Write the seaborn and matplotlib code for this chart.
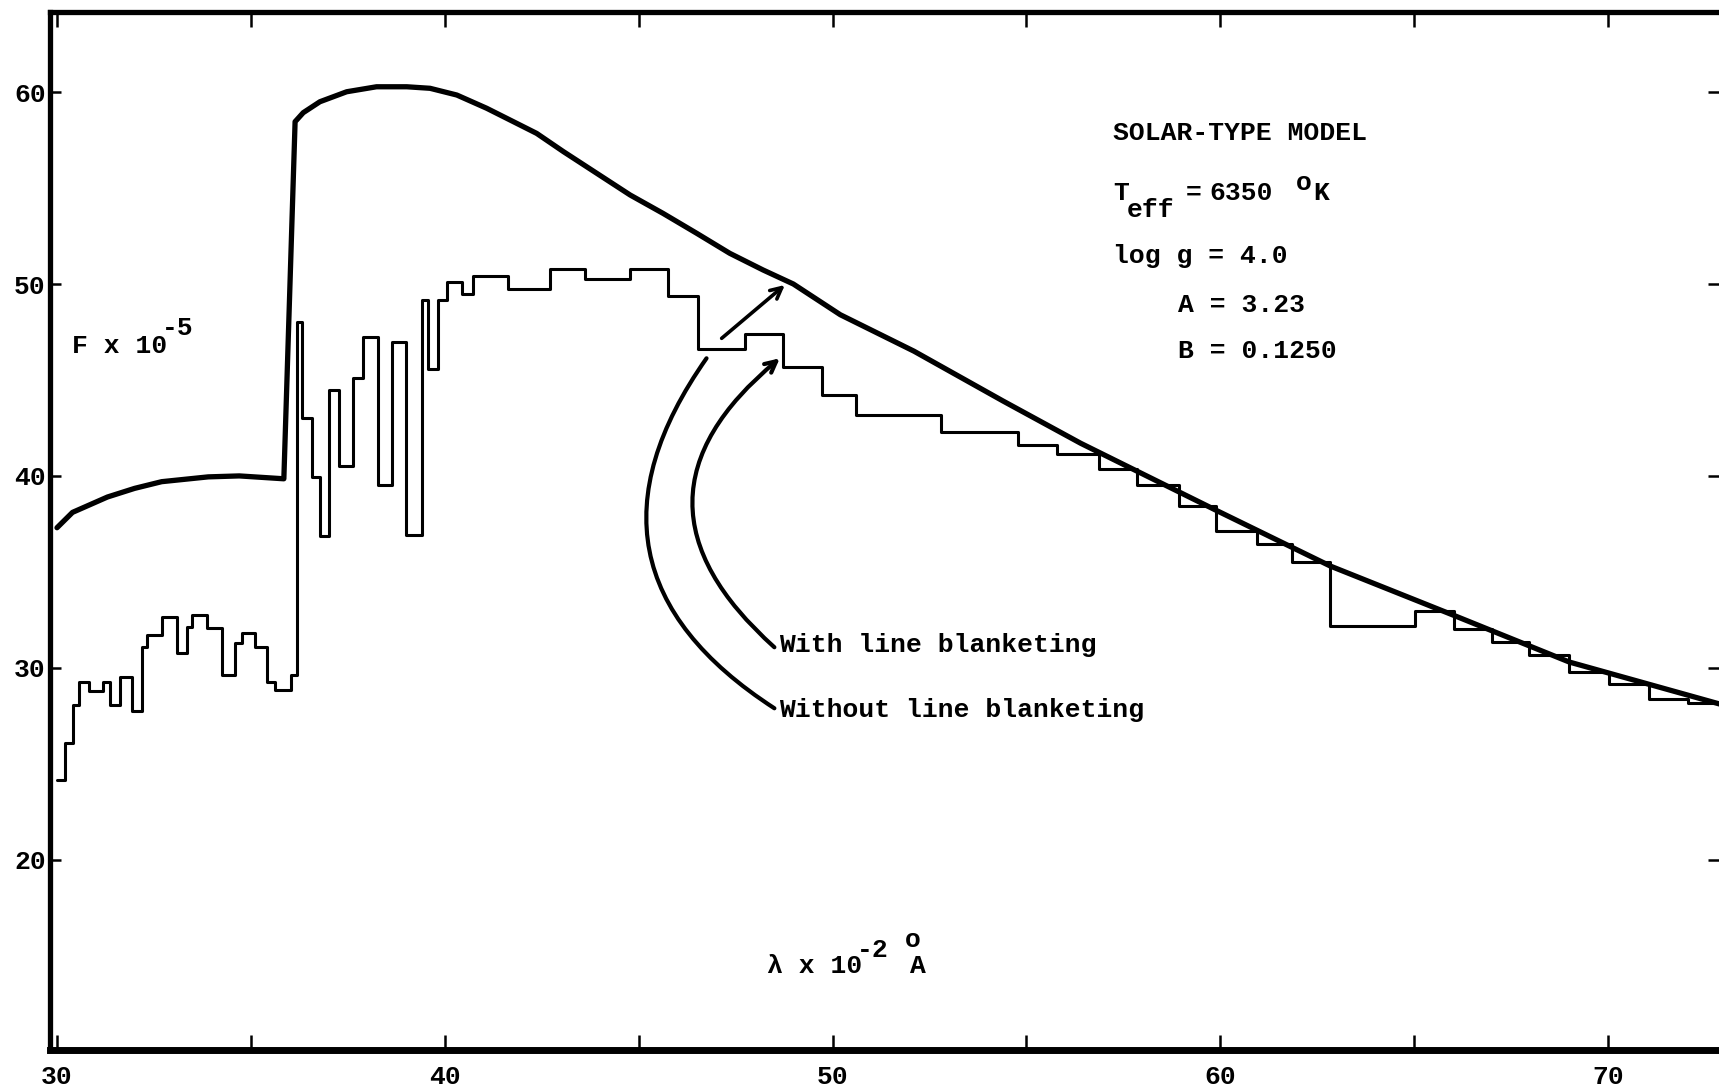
"""
Solar-type model flux, with and without line blanketing.

Recreates an old typewriter / pen-plotter figure and saves out.png.
"""

import matplotlib
matplotlib.use("Agg")
import matplotlib.pyplot as plt
import seaborn as sns


# wavelength in units of 100 A, flux in units of 1e-5
smooth_wavelength = [30.0, 30.4, 31.3, 32.0, 32.7, 33.9, 34.7, 35.85,
                     36.14, 36.35, 36.78, 37.47, 38.24, 39.02, 39.62, 40.31,
                     41.08, 41.77, 42.37, 43.06, 43.92, 44.78, 45.63, 46.5,
                     47.35, 48.21, 48.99, 50.2, 52.1, 54.4, 56.4, 59.9,
                     62.84, 66.0, 69.0, 72.9]
smooth_flux = [37.3, 38.1, 38.9, 39.35, 39.7, 39.95, 40.0, 39.85,
               58.46, 58.93, 59.5, 60.02, 60.28, 60.28, 60.2, 59.85,
               59.16, 58.46, 57.85, 56.9, 55.77, 54.64, 53.68, 52.64,
               51.6, 50.73, 50.0, 48.4, 46.5, 43.9, 41.7, 38.2,
               35.3, 32.75, 30.3, 28.1]

# blanketed flux: left edge of each wavelength bin and its flux
bin_edges = [30.0, 30.21, 30.40, 30.58, 30.83, 31.19, 31.37, 31.62, 31.93,
             32.18, 32.31, 32.70, 33.09, 33.34, 33.47, 33.86, 34.25, 34.59,
             34.76, 35.11, 35.42, 35.62, 36.03, 36.2, 36.31, 36.57, 36.78,
             37.01, 37.27, 37.63, 37.90, 38.29, 38.63, 39.00, 39.40, 39.57,
             39.83, 40.05, 40.44, 40.74, 41.64, 42.71, 43.62, 44.78, 45.75,
             46.54, 47.74, 48.71, 49.72, 50.6, 52.8, 54.77, 55.8, 56.86,
             57.84, 58.93, 59.9, 60.94, 61.86, 62.84, 65.03, 66.03, 67.0,
             67.95, 68.99, 70.03, 71.05, 72.05]
bin_flux = [24.15, 26.06, 28.06, 29.28, 28.81, 29.28, 28.06, 29.54, 27.75,
            31.1, 31.71, 32.66, 30.79, 32.11, 32.75, 32.09, 29.63, 31.27,
            31.83, 31.1, 29.28, 28.84, 29.63, 48.04, 43.0, 39.96, 36.87,
            44.48, 40.53, 45.09, 47.25, 39.53, 46.99, 36.92, 49.17, 45.55,
            49.17, 50.12, 49.5, 50.42, 49.74, 50.8, 50.24, 50.77, 49.37,
            46.6, 47.4, 45.7, 44.2, 43.2, 42.3, 41.62, 41.14, 40.34,
            39.52, 38.43, 37.14, 36.45, 35.5, 32.2, 32.95, 32.0, 31.36,
            30.66, 29.8, 29.14, 28.4, 28.14]

x_ticks = [30, 35, 40, 45, 50, 55, 60, 65, 70]
x_tick_labels = ["30", "", "40", "", "50", "", "60", "", "70"]
y_ticks = [20, 30, 40, 50, 60]
y_tick_labels = ["20", "30", "40", "50", "60"]

x_min, x_max = 29.82, 72.86
y_min, y_max = 10.08, 64.19

MONO = ["Liberation Mono", "DejaVu Sans Mono"]
FS = 19

sns.set_style("white")
plt.rcParams["font.family"] = MONO
plt.rcParams["font.weight"] = "bold"
plt.rcParams["text.color"] = "black"

fig = plt.figure(figsize=(17.19, 10.87), dpi=100)
ax = fig.add_axes([0.0291, 0.034, 0.9709, 0.9552])

# step curve runs to the right edge of the frame
step_x = bin_edges + [x_max]
step_y = bin_flux + [bin_flux[-1]]
sns.lineplot(x=step_x, y=step_y, drawstyle="steps-post", color="black",
             linewidth=2.2, estimator=None, sort=False, ax=ax)
sns.lineplot(x=smooth_wavelength, y=smooth_flux, color="black",
             linewidth=3.8, estimator=None, sort=False, ax=ax, zorder=3)

ax.set_xlim(x_min, x_max)
ax.set_ylim(y_min, y_max)
ax.set_xticks(x_ticks, x_tick_labels)
ax.set_yticks(y_ticks, y_tick_labels)
ax.set_xlabel("")
ax.set_ylabel("")

for side in ["left", "top"]:
    ax.spines[side].set_linewidth(3.8)
    ax.spines[side].set_color("black")
ax.spines["bottom"].set_linewidth(5)
ax.spines["bottom"].set_color("black")
ax.spines["right"].set_visible(False)

ax.tick_params(axis="x", direction="in", length=11, width=1.8, color="black",
               top=True, bottom=True, labelsize=FS, pad=11, labelcolor="black")
ax.tick_params(axis="y", direction="in", length=8, width=1.8, color="black",
               left=True, right=True, labelsize=FS, pad=3, labelcolor="black")

# typed annotations (superscripts/subscripts are just shifted lines)
def typed(x, y, s):
    ax.text(x, y, s, fontsize=FS, ha="left", va="baseline", family=MONO,
            fontweight="bold")

typed(57.24, 57.5, "SOLAR-TYPE MODEL")
typed(57.24, 54.38, "T")
typed(57.58, 53.51, "eff")
typed(59.1, 54.38, "=")
typed(59.73, 54.38, "6350")
typed(61.95, 54.9, "o")
typed(62.39, 54.38, "K")
typed(57.24, 51.07, "log g = 4.0")
typed(58.91, 48.56, "A = 3.23")
typed(58.91, 46.12, "B = 0.1250")

typed(30.38, 46.39, "F x 10")
typed(32.7, 47.34, "-5")

typed(48.3, 14.08, "λ x 10")
typed(50.62, 14.95, "-2")
typed(51.87, 15.47, "o")
typed(52.0, 14.08, "A")

typed(48.63, 30.8, "With line blanketing")
typed(48.63, 27.45, "Without line blanketing")

head = "->,head_length=0.8,head_width=0.4"
ax.annotate("", xy=(48.64, 46.13), xytext=(48.5, 31.07),
            arrowprops=dict(arrowstyle=head, lw=3, color="black",
                            connectionstyle="arc3,rad=-0.58",
                            shrinkA=0, shrinkB=0))
ax.annotate("", xy=(46.75, 46.13), xytext=(48.5, 27.89),
            arrowprops=dict(arrowstyle="-", lw=3, color="black",
                            connectionstyle="arc3,rad=-0.52",
                            shrinkA=0, shrinkB=0))
ax.annotate("", xy=(48.77, 49.95), xytext=(47.14, 47.17),
            arrowprops=dict(arrowstyle=head, lw=2.6, color="black",
                            shrinkA=0, shrinkB=0))

fig.savefig("out.png", dpi=100)
plt.close(fig)
